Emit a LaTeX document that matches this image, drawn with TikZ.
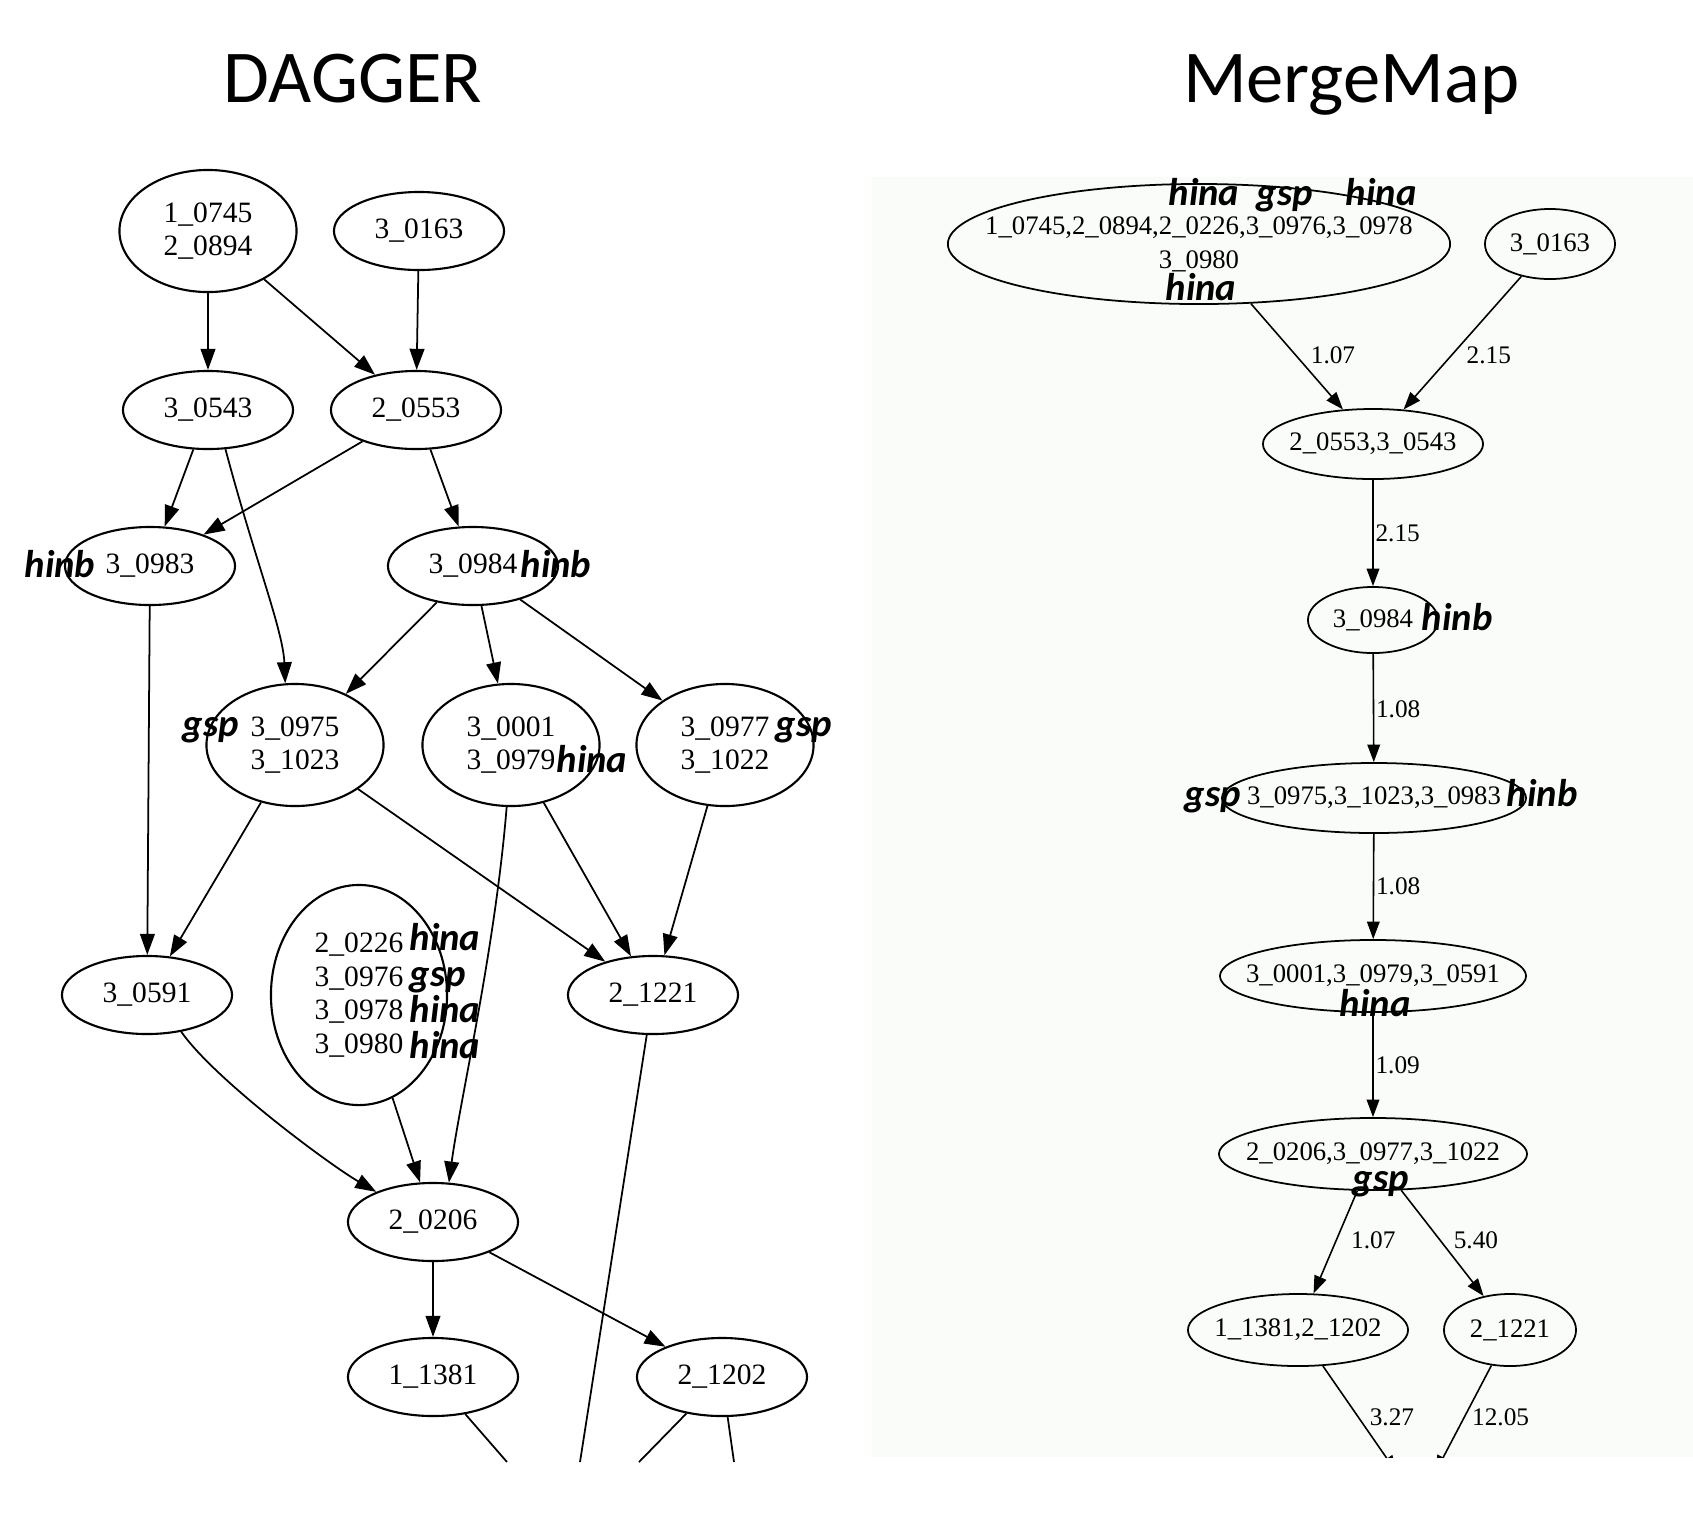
\documentclass[tikz,border=0pt]{standalone}
\usepackage{fontspec}
\setmainfont{Liberation Serif}
\newfontfamily\calib{Carlito}
\usetikzlibrary{shapes.geometric,arrows.meta,calc}
\definecolor{panelbg}{RGB}{250,252,250}

\begin{document}
\begin{tikzpicture}[x=0.01cm, y=-0.01cm,
    dag/.style={draw, ellipse, line width=0.6pt, inner sep=0pt, minimum width=1.70cm, minimum height=0.78cm, align=center, font=\fontsize{8.4}{9.6}\selectfont},
    tall/.style={minimum width=1.77cm, minimum height=1.22cm},
    mm/.style={draw, ellipse, line width=0.5pt, inner ysep=0pt, inner xsep=-0.4cm, minimum height=0.70cm, align=center, font=\fontsize{7.6}{9.6}\selectfont},
    tag/.style={font=\calib\fontsize{11}{13}\selectfont\bfseries\itshape, inner sep=0pt, anchor=base west},
    edge/.style={line width=0.5pt, -{Triangle[length=6pt,width=4.2pt]}},
    mmedge/.style={line width=0.45pt, -{Triangle[length=5pt,width=3.6pt]}},
    wt/.style={font=\fontsize{7.2}{8}\selectfont, inner sep=0.5pt},
    title/.style={font=\calib\fontsize{21.2}{25}\selectfont, anchor=base}]
  \useasboundingbox (0,0) rectangle (1693,1523);
  \fill[panelbg] (872,177) rectangle (1693,1457);

  \node[title] (tdag) at (353,102) {DAGGER};
  \node[title] (tmm) at (1351,102) {MergeMap};

  % DAGGER graph
  \node[dag, tall] (d0745) at (208,231) {1\_0745\\2\_0894};
  \node[dag] (d0163) at (419,231) {3\_0163};
  \node[dag] (d0543) at (208,410) {3\_0543};
  \node[dag] (d0553) at (416,410) {2\_0553};
  \node[dag] (d0983) at (150,566) {3\_0983};
  \node[dag] (d0984) at (473,566) {3\_0984};
  \node[dag, tall] (d0975) at (295,745) {3\_0975\\3\_1023};
  \node[dag, tall] (d0001) at (511,745) {3\_0001\\3\_0979};
  \node[dag, tall] (d0977) at (725,745) {3\_0977\\3\_1022};
  \node[dag] (d0591) at (147,995) {3\_0591};
  \node[dag, minimum width=1.76cm, minimum height=2.2cm] (d0226) at (359,995) {2\_0226\\3\_0976\\3\_0978\\3\_0980};
  \node[dag] (d1221) at (653,995) {2\_1221};
  \node[dag] (d0206) at (433,1222) {2\_0206};
  \node[dag] (d1381) at (433,1377) {1\_1381};
  \node[dag] (d1202) at (722,1377) {2\_1202};

  \node[tag] (t0983) at (24,577) {hinb};
  \node[tag] (t0984) at (520,577) {hinb};
  \node[tag] (t0975) at (182,736) {gsp};
  \node[tag] (t0979) at (556,772) {hina};
  \node[tag] (t0977) at (775,736) {gsp};
  \node[tag] (t0226) at (409,950) {hina};
  \node[tag] (t0976) at (409,986) {gsp};
  \node[tag] (t0978) at (409,1022) {hina};
  \node[tag] (t0980) at (409,1058) {hina};

  \draw[edge] (d0745) -- (d0543);
  \draw[edge] (d0745) -- (d0553);
  \draw[edge] (d0163) -- (d0553);
  \draw[edge] (d0543) -- (d0983);
  \draw[edge] (d0543.-66) .. controls (255,560) and (283,630) .. (d0975.99);
  \draw[edge] (d0553) -- (d0983);
  \draw[edge] (d0553) -- (d0984);
  \draw[edge] (d0984) -- (d0975);
  \draw[edge] (d0984) -- (d0001);
  \draw[edge] (d0984) -- (d0977);
  \draw[edge] (d0983) -- (d0591);
  \draw[edge] (d0975) -- (d0591);
  \draw[edge] (d0975) -- (d1221);
  \draw[edge] (d0001) -- (d1221);
  \draw[edge] (d0977) -- (d1221);
  \draw[edge] (d0001.-94) .. controls (495,950) and (460,1100) .. (d0206.68);
  \draw[edge] (d0226) -- (d0206);
  \draw[edge] (d0591.-47) .. controls (215,1080) and (330,1165) .. (d0206.152);
  \draw[edge] (d0206) -- (d1381);
  \draw[edge] (d0206) -- (d1202);
  % edges leaving the cropped picture
  \coordinate (cut1) at (507,1462);
  \coordinate (cut2) at (580,1462);
  \coordinate (cut3) at (639,1462);
  \coordinate (cut4) at (734,1462);
  \draw[line width=0.5pt] (d1381) -- (cut1);
  \draw[line width=0.5pt] (d1221) -- (cut2);
  \draw[line width=0.5pt] (d1202) -- (cut3);
  \draw[line width=0.5pt] (d1202) -- (cut4);

  % MergeMap graph
  \node[mm, minimum width=5.02cm, minimum height=1.20cm] (m0745) at (1199,244) {1\_0745,2\_0894,2\_0226,3\_0976,3\_0978\\3\_0980};
  \node[mm, minimum width=1.30cm] (m0163) at (1550,244) {3\_0163};
  \node[mm, minimum width=2.20cm] (m0553) at (1373,444) {2\_0553,3\_0543};
  \node[mm, minimum width=1.30cm, minimum height=0.66cm] (m0984) at (1373,620) {3\_0984};
  \node[mm, minimum width=3.04cm] (m0975) at (1374,798) {3\_0975,3\_1023,3\_0983};
  \node[mm, minimum width=3.06cm, minimum height=0.72cm] (m0001) at (1373,976) {3\_0001,3\_0979,3\_0591};
  \node[mm, minimum width=3.08cm, minimum height=0.72cm] (m0206) at (1373,1154) {2\_0206,3\_0977,3\_1022};
  \node[mm, minimum width=2.20cm, minimum height=0.72cm] (m1381) at (1298,1330) {1\_1381,2\_1202};
  \node[mm, minimum width=1.32cm, minimum height=0.72cm] (m1221) at (1510,1330) {2\_1221};

  \node[tag] (s0226) at (1168,205) {hina};
  \node[tag] (s0976) at (1256,205) {gsp};
  \node[tag] (s0978) at (1345,205) {hina};
  \node[tag] (s0980) at (1165,300) {hina};
  \node[tag] (s0984) at (1421,630) {hinb};
  \node[tag] (s0975) at (1184,806) {gsp};
  \node[tag] (s0983) at (1506,806) {hinb};
  \node[tag] (s0979) at (1339,1016) {hina};
  \node[tag] (s0977) at (1352,1190) {gsp};

  \draw[mmedge] (m0745) -- (m0553) node[wt, pos=.49, right=3.5pt] {1.07};
  \draw[mmedge] (m0163) -- (m0553) node[wt, pos=.59, right=3.5pt] {2.15};
  \draw[mmedge] (m0553) -- (m0984) node[wt, pos=.5, right] {2.15};
  \draw[mmedge] (m0984) -- (m0975) node[wt, pos=.51, right] {1.08};
  \draw[mmedge] (m0975) -- (m0001) node[wt, pos=.5, right] {1.08};
  \draw[mmedge] (m0001) -- (m0206) node[wt, pos=.5, right] {1.09};
  \draw[mmedge] (m0206) -- (m1381) node[wt, pos=.48, right=3.5pt] {1.07};
  \draw[mmedge] (m0206) -- (m1221) node[wt, pos=.47, right=3.2pt] {5.40};
  % cut off at the panel border
  \begin{scope}
    \clip (872,177) rectangle (1693,1457);
    \coordinate (mcut1) at (1397,1473);
    \coordinate (mcut2) at (1435,1473);
    \draw[mmedge] (m1381) -- (mcut1) node[wt, pos=.48, right=2.5pt] {3.27};
    \draw[mmedge] (m1221) -- (mcut2) node[wt, pos=.48, right=1.5pt] {12.05};
  \end{scope}
\end{tikzpicture}
\end{document}
